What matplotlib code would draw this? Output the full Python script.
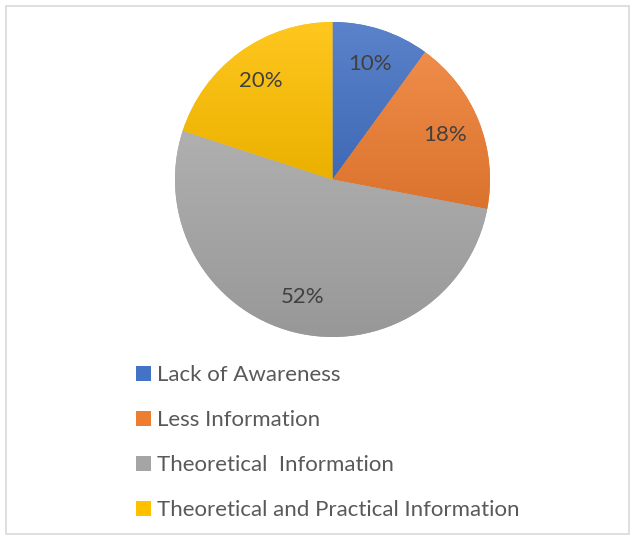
import numpy as np
import matplotlib.pyplot as plt
from matplotlib.colors import LinearSegmentedColormap, to_rgb
from matplotlib.patches import Patch, Rectangle

labels = ["Lack of Awareness", "Less Information", "Theoretical  Information",
          "Theoretical and Practical Information"]
values = [10, 18, 52, 20]
base_colors = ["#4472C4", "#ED7D31", "#A5A5A5", "#FFC000"]

plt.rcParams["font.family"] = ["Lato", "DejaVu Sans"]

W, H = 635, 540
fig = plt.figure(figsize=(W / 100, H / 100), dpi=100)

# pie centre and radius in pixels (image coords, y down)
cx, cy, r = 332.5, 179.5, 157.5
ax = fig.add_axes([(cx - r) / W, (H - cy - r) / H, 2 * r / W, 2 * r / H])

wedges, texts, autotexts = ax.pie(
    values, colors=base_colors, startangle=90, counterclock=False,
    autopct="%1.0f%%", pctdistance=0.77, radius=1,
    wedgeprops=dict(linewidth=0), textprops=dict(fontsize=16, color="#404040"))


def shade(c, f):
    rgb = np.array(to_rgb(c))
    if f > 0:
        return rgb + (1 - rgb) * f
    return rgb * (1 + f)


# vertical gradient inside each wedge, lighter on top
grad = np.linspace(0, 1, 256).reshape(-1, 1)
for w, c in zip(wedges, base_colors):
    y0, y1 = w.get_path().get_extents(w.get_patch_transform()).intervaly
    cmap = LinearSegmentedColormap.from_list("g", [shade(c, 0.12), shade(c, -0.08)])
    im = ax.imshow(grad, extent=[-1, 1, y0, y1], origin="upper", cmap=cmap,
                   aspect="auto", zorder=1)
    im.set_clip_path(w)
for t in autotexts:
    t.set_zorder(3)
ax.set_xlim(-1, 1)
ax.set_ylim(-1, 1)
ax.set_aspect("equal")
ax.axis("off")

handles = [Patch(facecolor=c, edgecolor="none") for c in base_colors]
fig.legend(handles, labels, loc="upper left", bbox_to_anchor=(136 / W, (H - 365) / H),
           frameon=False, fontsize=16, labelcolor="#595959", handlelength=0.68,
           handleheight=0.68, handletextpad=0.27, labelspacing=1.13,
           borderpad=0, borderaxespad=0)

fig.add_artist(Rectangle((6 / W, 6 / H), (W - 12) / W, (H - 12) / H,
                         transform=fig.transFigure, fill=False,
                         edgecolor="#D9D9D9", linewidth=1.2))

fig.savefig("out.png", dpi=100)
